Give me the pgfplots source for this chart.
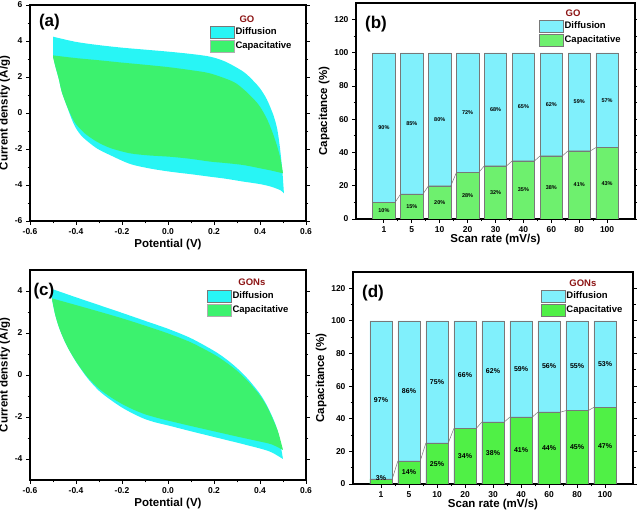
\documentclass[border=0pt]{standalone}
\usepackage{fontspec}
\setmainfont{Liberation Sans}
\usepackage{pgfplots}
\pgfplotsset{compat=1.18}
\usepgfplotslibrary{fillbetween}
\usepackage{pgfplotstable}

\definecolor{cvcyan}{RGB}{40,245,245}
\definecolor{cvgreen}{RGB}{60,242,110}
\definecolor{barcyan}{RGB}{128,240,252}
\definecolor{bargreenb}{RGB}{110,240,110}
\definecolor{bargreend}{RGB}{80,240,70}
\definecolor{titlered}{RGB}{140,20,20}
\definecolor{bordergray}{RGB}{120,120,120}

\pgfplotstableread{
x cap dif
1 10 90
2 15 85
3 20 80
4 28 72
5 32 68
6 35 65
7 38 62
8 41 59
9 43 57
}\tabB

\pgfplotstableread{
x cap dif
1 3 97
2 14 86
3 25 75
4 34 66
5 38 62
6 41 59
7 44 56
8 45 55
9 47 53
}\tabD

\pgfplotsset{
  panel/.style={
    scale only axis, anchor=south west,
    axis line style={line width=1.2pt},
    every tick/.style={black, line width=0.9pt},
    tick align=outside,
    major tick length=4pt, minor tick length=2.5pt,
    xtick pos=bottom, ytick pos=both,
    xticklabel pos=bottom, yticklabel pos=left,
    tick label style={font=\fontsize{8.5}{9}\selectfont\bfseries},
    xlabel style={font=\fontsize{11.5}{12}\selectfont\bfseries, yshift=2pt},
    ylabel style={font=\fontsize{11.5}{12}\selectfont\bfseries, yshift=-2pt},
    /pgf/number format/assume math mode=true,
    legend style={draw=none, fill=none, anchor=north west,
      font=\fontsize{9.5}{10}\selectfont\bfseries,
      row sep=1.5pt, inner sep=0pt, outer sep=0pt,
      nodes={inner sep=1.2pt}},
    legend cell align=left,
    legend image code/.code={\draw[##1] (0pt,-6pt) rectangle (24pt,6pt);},
  },
  cvpanel/.style={panel,
    xmin=-0.6, xmax=0.6, xtick={-0.6,-0.4,...,0.61}, minor x tick num=1,
    minor y tick num=1,
    xticklabel style={/pgf/number format/.cd, fixed, precision=1, fixed zerofill},
    xlabel={Potential (V)}, ylabel={Current density (A/g)},
  },
  barpanel/.style={panel,
    xmin=0, xmax=10, xtick={1,...,9}, xticklabels={1,5,10,20,30,40,60,80,100},
    minor x tick num=1,
    ymin=0, ymax=130, ytick={0,20,...,120}, minor y tick num=1,
    xlabel={Scan rate (mV/s)}, ylabel={Capacitance (\%)},
    xlabel style={yshift=3.5pt},
  },
  pctlabel/.style={draw=none, forget plot,
    nodes near coords={\pgfmathprintnumber[fixed,precision=0]{\pgfplotspointmeta}\%},
    nodes near coords style={anchor=center, font=\fontsize{#1}{#1}\selectfont\bfseries}},
}

\begin{document}
\begin{tikzpicture}

% ---------------- (a) ----------------
\begin{axis}[cvpanel, at={(30pt,290pt)}, width=276pt, height=216pt,
  ymin=-6, ymax=6, ytick={-6,-4,...,6},
  legend style={at={(0.652,0.903)}}]
\addplot[name path=au, draw=none, smooth, forget plot] coordinates {
(-0.5,4.24) (-0.4,3.95) (-0.3,3.77) (-0.2,3.63) (-0.1,3.52) (0.0,3.41)
(0.1,3.28) (0.183,3.13) (0.25,2.85) (0.327,2.3) (0.37,1.8) (0.4,1.37)
(0.43,0.75) (0.458,-0.11) (0.475,-0.9) (0.487,-1.96) (0.497,-3.2) (0.504,-4.46)};
\addplot[name path=al, draw=none, smooth, forget plot] coordinates {
(-0.5,3.2) (-0.49,2.6) (-0.475,1.9) (-0.462,1.18) (-0.44,0.4) (-0.42,-0.3)
(-0.40,-0.85) (-0.37,-1.35) (-0.31,-1.96) (-0.25,-2.35) (-0.165,-2.83)
(-0.08,-3.08) (0.009,-3.26) (0.1,-3.4) (0.183,-3.54) (0.25,-3.65)
(0.327,-3.81) (0.4,-3.95) (0.45,-4.1) (0.49,-4.3) (0.504,-4.46)};
\addplot[fill=cvcyan, draw=none, forget plot] fill between[of=au and al];
\addplot[name path=gu, draw=none, smooth, forget plot] coordinates {
(-0.5,3.2) (-0.4,3.05) (-0.3,2.93) (-0.2,2.8) (-0.1,2.68) (0.0,2.55)
(0.1,2.38) (0.183,2.2) (0.283,1.74) (0.33,1.3) (0.37,0.81) (0.4,0.35)
(0.429,-0.3) (0.452,-1.0) (0.473,-1.78) (0.49,-2.6) (0.5,-3.35)};
\addplot[name path=gl, draw=none, smooth, forget plot] coordinates {
(-0.5,3.1) (-0.49,2.6) (-0.475,1.9) (-0.462,1.18) (-0.44,0.4) (-0.415,-0.3)
(-0.397,-0.67) (-0.36,-1.15) (-0.31,-1.59) (-0.25,-1.95) (-0.165,-2.24)
(-0.08,-2.36) (0.009,-2.43) (0.1,-2.55) (0.183,-2.7) (0.25,-2.78)
(0.327,-2.89) (0.4,-3.07) (0.45,-3.2) (0.5,-3.35)};
\addplot[fill=cvgreen, draw=none, forget plot] fill between[of=gu and gl];
\addlegendimage{fill=cvcyan, draw=bordergray}
\addlegendentry{Diffusion}
\addlegendimage{fill=cvgreen, draw=bordergray!60}
\addlegendentry{Capacitative}
\node[font=\fontsize{17}{17}\selectfont\bfseries, anchor=north west] at (rel axis cs:0.02,0.975) {(a)};
\node[font=\fontsize{9.5}{10}\selectfont\bfseries, text=titlered] at (rel axis cs:0.786,0.935) {GO};
\end{axis}

% ---------------- (b) ----------------
\begin{axis}[barpanel, at={(356pt,292pt)}, width=279pt, height=216pt,
  legend style={at={(0.656,0.921)}}]
\addplot[ybar, bar width=0.8, bar shift=0pt, fill=barcyan, draw=bordergray, line width=0.5pt, forget plot]
  table[x=x, y expr=\thisrow{cap}+\thisrow{dif}] {\tabB};
\addplot[ybar, bar width=0.8, bar shift=0pt, fill=bargreenb, draw=bordergray, line width=0.5pt, forget plot]
  table[x=x, y=cap] {\tabB};
\addplot[bordergray, line width=0.5pt, forget plot] coordinates {
(0.6,10)(1.4,10)(1.6,15)(2.4,15)(2.6,20)(3.4,20)(3.6,28)(4.4,28)(4.6,32)(5.4,32)
(5.6,35)(6.4,35)(6.6,38)(7.4,38)(7.6,41)(8.4,41)(8.6,43)(9.4,43)};
\addplot[pctlabel=5.5, point meta=\thisrow{cap}]
  table[x=x, y expr=\thisrow{cap}/2] {\tabB};
\addplot[pctlabel=5.5, point meta=\thisrow{dif}]
  table[x=x, y expr=\thisrow{cap}+\thisrow{dif}/2] {\tabB};
\addlegendimage{fill=barcyan, draw=bordergray}
\addlegendentry{Diffusion}
\addlegendimage{fill=bargreenb, draw=bordergray}
\addlegendentry{Capacitative}
\node[font=\fontsize{17}{17}\selectfont\bfseries, anchor=north west] at (rel axis cs:0.02,0.955) {(b)};
\node[font=\fontsize{9.5}{10}\selectfont\bfseries, text=titlered] at (rel axis cs:0.778,0.954) {GO};
\end{axis}

% ---------------- (c) ----------------
\begin{axis}[cvpanel, at={(30pt,31pt)}, width=276pt, height=210pt,
  ymin=-5, ymax=5, ytick={-4,-2,...,4},
  legend style={at={(0.641,0.905)}}]
\addplot[name path=cu, draw=none, smooth, forget plot] coordinates {
(-0.5,4.08) (-0.4,3.7) (-0.3,3.33) (-0.2,2.96) (-0.1,2.58) (0.0,2.2)
(0.1,1.75) (0.2,1.15) (0.25,0.78) (0.3,0.33) (0.35,-0.22) (0.4,-0.9)
(0.43,-1.45) (0.46,-2.15) (0.48,-2.8) (0.5,-4.0)};
\addplot[name path=cl, draw=none, smooth, forget plot] coordinates {
(-0.505,3.65) (-0.49,2.85) (-0.47,2.15) (-0.44,1.4) (-0.40,0.63) (-0.35,-0.15)
(-0.30,-0.75) (-0.25,-1.18) (-0.20,-1.55) (-0.15,-1.85) (-0.10,-2.1)
(-0.05,-2.27) (0.0,-2.4) (0.1,-2.68) (0.2,-2.95) (0.3,-3.22) (0.4,-3.5)
(0.45,-3.68) (0.5,-4.0)};
\addplot[fill=cvcyan, draw=none, forget plot] fill between[of=cu and cl];
\addplot[name path=hu, draw=none, smooth, forget plot] coordinates {
(-0.505,3.65) (-0.4,3.33) (-0.3,3.02) (-0.2,2.7) (-0.1,2.35) (0.0,1.98)
(0.1,1.55) (0.2,0.98) (0.25,0.62) (0.3,0.2) (0.35,-0.33) (0.4,-0.98)
(0.43,-1.5) (0.46,-2.2) (0.48,-2.75) (0.5,-3.57)};
\addplot[name path=hl, draw=none, smooth, forget plot] coordinates {
(-0.505,3.65) (-0.49,2.85) (-0.47,2.15) (-0.44,1.4) (-0.40,0.65) (-0.35,-0.1)
(-0.30,-0.65) (-0.25,-1.05) (-0.20,-1.38) (-0.15,-1.65) (-0.10,-1.87)
(-0.05,-2.03) (0.0,-2.17) (0.1,-2.43) (0.2,-2.68) (0.3,-2.93) (0.4,-3.17)
(0.45,-3.3) (0.5,-3.57)};
\addplot[fill=cvgreen, draw=none, forget plot] fill between[of=hu and hl];
\addlegendimage{fill=cvcyan, draw=bordergray}
\addlegendentry{Diffusion}
\addlegendimage{fill=cvgreen, draw=bordergray!60}
\addlegendentry{Capacitative}
\node[font=\fontsize{17}{17}\selectfont\bfseries, anchor=north west] at (rel axis cs:0.0,0.955) {(c)};
\node[font=\fontsize{9.5}{10}\selectfont\bfseries, text=titlered] at (rel axis cs:0.804,0.943) {GONs};
\end{axis}

% ---------------- (d) ----------------
\begin{axis}[barpanel, at={(353pt,27pt)}, width=280pt, height=212pt,
  legend style={at={(0.671,0.915)}}]
\addplot[ybar, bar width=0.8, bar shift=0pt, fill=barcyan, draw=bordergray, line width=0.5pt, forget plot]
  table[x=x, y expr=\thisrow{cap}+\thisrow{dif}] {\tabD};
\addplot[ybar, bar width=0.8, bar shift=0pt, fill=bargreend, draw=bordergray, line width=0.5pt, forget plot]
  table[x=x, y=cap] {\tabD};
\addplot[bordergray, line width=0.5pt, forget plot] coordinates {
(0.6,3)(1.4,3)(1.6,14)(2.4,14)(2.6,25)(3.4,25)(3.6,34)(4.4,34)(4.6,38)(5.4,38)
(5.6,41)(6.4,41)(6.6,44)(7.4,44)(7.6,45)(8.4,45)(8.6,47)(9.4,47)};
\addplot[pctlabel=7, point meta=\thisrow{cap}]
  table[x=x, y expr={max(\thisrow{cap}/2,3.6)}] {\tabD};
\addplot[pctlabel=7, point meta=\thisrow{dif}]
  table[x=x, y expr=\thisrow{cap}+\thisrow{dif}/2] {\tabD};
\addlegendimage{fill=barcyan, draw=bordergray}
\addlegendentry{Diffusion}
\addlegendimage{fill=bargreend, draw=bordergray}
\addlegendentry{Capacitative}
\node[font=\fontsize{17}{17}\selectfont\bfseries, anchor=north west] at (rel axis cs:0.02,0.955) {(d)};
\node[font=\fontsize{9.5}{10}\selectfont\bfseries, text=titlered] at (rel axis cs:0.821,0.948) {GONs};
\end{axis}

\pgfresetboundingbox
\path[use as bounding box] (0pt,0pt) rectangle (637pt,511pt);
\end{tikzpicture}
\end{document}
